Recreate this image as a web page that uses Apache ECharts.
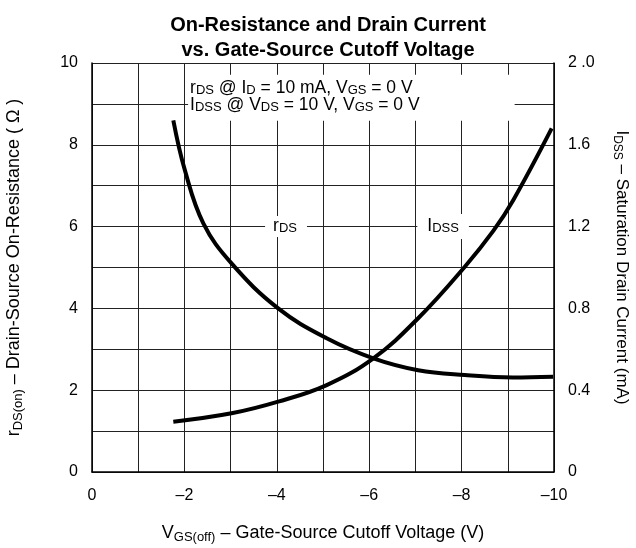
<!DOCTYPE html>
<html>
<head>
<meta charset="utf-8">
<script src="https://cdn.jsdelivr.net/npm/echarts@6/dist/echarts.min.js"></script>
<style>html,body{margin:0;padding:0;background:#fff}#c{width:636px;height:548px}</style>
</head>
<body>
<div id="c"></div>
<script>
// Data
var vgsRds = [-1.76, -2.01, -2.41, -3.02, -4.03, -5.08, -6.09, -7.06, -8.07, -9.11, -9.98];
var rdsValues = [8.6, 7.38, 6.08, 5.10, 4.0, 3.27, 2.78, 2.49, 2.37, 2.31, 2.33];
var vgsIdss = [-1.76, -3.02, -4.03, -5.08, -6.09, -7.06, -8.07, -8.69, -9.12, -9.95];
var idssValues = [0.246, 0.287, 0.344, 0.425, 0.556, 0.752, 1.004, 1.18, 1.33, 1.68];
var leftTicks = [0, 2, 4, 6, 8, 10];
var rightTickLabels = {'0': '0', '0.4': '0.4', '0.8': '0.8', '1.2': '1.2', '1.6': '1.6', '2': '2 .0'};

var FONT = 'Liberation Sans, Arial, sans-serif';
var chart = echarts.init(document.getElementById('c'));

function pairs(xs, ys) { return xs.map(function (x, i) { return [x, ys[i]]; }); }

var subStyle = { fontSize: 13, fontFamily: FONT, color: '#000', verticalAlign: 'bottom', lineHeight: 14, padding: [6, 0, 0, 0] };
var normStyle = { fontSize: 18, fontFamily: FONT, color: '#000', lineHeight: 22 };
var rSub = { fontSize: 12, fontFamily: FONT, color: '#000', verticalAlign: 'bottom', lineHeight: 13, padding: [6, 0, 0, 0] };
var rNorm = { fontSize: 17, fontFamily: FONT, color: '#000', lineHeight: 21 };
var lblSub = { fontSize: 13, fontFamily: FONT, color: '#000', verticalAlign: 'bottom', lineHeight: 13, padding: [5, 0, 0, 0] };
var lblNorm = { fontSize: 17.5, fontFamily: FONT, color: '#000', lineHeight: 17 };

chart.setOption({
  animation: false,
  backgroundColor: '#fff',
  title: {
    text: 'On-Resistance and Drain Current\nvs. Gate-Source Cutoff Voltage',
    left: 323, top: 8, textAlign: 'center',
    textStyle: { fontFamily: FONT, fontSize: 20, fontWeight: 'bold', color: '#000', lineHeight: 25 }
  },
  grid: { left: 92, right: 82, top: 63, bottom: 76, outerBoundsMode: 'none', containLabel: false },
  xAxis: {
    type: 'value', min: -10, max: 0, interval: 1, inverse: true,
    name: '{n|V}{s|GS(off)}{n| – Gate-Source Cutoff Voltage (V)}',
    nameLocation: 'middle', nameGap: 50,
    nameTextStyle: { rich: { n: normStyle, s: subStyle } },
    axisLine: { show: true, lineStyle: { color: '#000', width: 1.5 } },
    axisTick: { show: false },
    splitLine: { show: true, lineStyle: { color: '#222', width: 1 } },
    axisLabel: {
      margin: 16, fontFamily: FONT, fontSize: 16, color: '#000',
      formatter: function (v) { if (v % 2 !== 0) return ''; return v === 0 ? '0' : '\u2013' + (-v); }
    }
  },
  yAxis: [{
    type: 'value', min: 0, max: 10, interval: 1, position: 'left',
    name: '{n|r}{s|DS(on)}{n| – Drain-Source On-Resistance ( \u03A9 )}',
    nameLocation: 'middle', nameGap: 67, nameRotate: 90,
    nameTextStyle: { rich: { n: normStyle, s: subStyle } },
    axisLine: { show: true, lineStyle: { color: '#000', width: 1.5 } },
    axisTick: { show: false },
    splitLine: { show: true, lineStyle: { color: '#222', width: 1 } },
    axisLabel: {
      margin: 14, fontFamily: FONT, fontSize: 16, color: '#000',
      formatter: function (v) { return leftTicks.indexOf(v) >= 0 ? String(v) : ''; }
    }
  }, {
    type: 'value', min: 0, max: 2, interval: 0.2, position: 'right',
    name: '{n|I}{s|DSS}{n| – Saturation Drain Current (mA)}',
    nameLocation: 'middle', nameGap: 57, nameRotate: -90,
    nameTextStyle: { rich: { n: rNorm, s: rSub } },
    axisLine: { show: true, lineStyle: { color: '#000', width: 1.5 } },
    axisTick: { show: false },
    splitLine: { show: false },
    axisLabel: {
      margin: 14, fontFamily: FONT, fontSize: 16, color: '#000',
      formatter: function (v) { var k = String(Math.round(v * 10) / 10); return rightTickLabels[k] || ''; }
    }
  }],
  series: [{
    name: 'rDS', type: 'line', yAxisIndex: 0, smooth: 0.4, showSymbol: false,
    data: pairs(vgsRds, rdsValues),
    lineStyle: { color: '#000', width: 4 },
    z: 5,
    markPoint: {
      symbol: 'rect', symbolSize: 0, silent: true,
      data: [{
        coord: [-4.2, 6],
        label: {
          show: true, position: 'inside', backgroundColor: '#fff', padding: [2, 10, 2, 8],
          formatter: '{n|r}{s|DS}',
          rich: { n: lblNorm, s: lblSub }
        }
      }, {
        coord: [-2.08, 9.15],
        label: {
          show: true, position: 'inside', backgroundColor: '#fff', padding: [5, 95, 7, 2],
          align: 'left', verticalAlign: 'middle',
          formatter: '{n|r}{s|DS}{n| @ I}{s|D}{n| = 10 mA, V}{s|GS}{n| = 0 V}\n{n|I}{s|DSS}{n| @ V}{s|DS}{n| = 10 V, V}{s|GS}{n| = 0 V}',
          rich: { n: lblNorm, s: lblSub }
        }
      }]
    }
  }, {
    name: 'IDSS', type: 'line', yAxisIndex: 1, smooth: 0.4, showSymbol: false,
    data: pairs(vgsIdss, idssValues),
    lineStyle: { color: '#000', width: 4 },
    z: 5,
    markPoint: {
      symbol: 'rect', symbolSize: 0, silent: true,
      data: [{
        coord: [-7.6, 1.2],
        label: {
          show: true, position: 'inside', backgroundColor: '#fff', padding: [4, 10, 4, 10],
          formatter: '{n|I}{s|DSS}',
          rich: { n: lblNorm, s: lblSub }
        }
      }]
    }
  }]
});
</script>
</body>
</html>
